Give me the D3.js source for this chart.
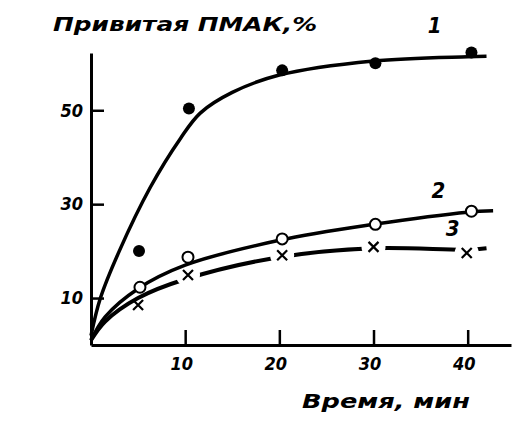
<!DOCTYPE html>
<html>
<head>
<meta charset="utf-8">
<script src="https://cdn.jsdelivr.net/npm/d3@7"></script>
<style>
  body { margin: 0; background: #fff; }
  text { font-family: "DejaVu Sans Condensed", "DejaVu Sans", sans-serif; font-weight: bold; font-style: italic; fill: #000; }
</style>
</head>
<body>
<svg id="chart" width="516" height="437"></svg>
<script>
// measured points (time, min -> grafted PMAK, %)
var pts1X = [5.1, 10.4, 20.3, 30.2, 40.4],
    pts1Y = [20, 50.4, 58.5, 60, 62.3];
var pts2X = [5.2, 10.3, 20.3, 30.2, 40.4],
    pts2Y = [12.3, 18.7, 22.6, 25.7, 28.5];
var pts3X = [5, 10.3, 20.3, 30, 39.9],
    pts3Y = [8.5, 14.9, 19.1, 20.9, 19.6];
// drawn smooth curves
var curve1X = [0, 1, 3, 6.3, 9.5, 11.6, 15, 20, 30, 40, 42],
    curve1Y = [2, 10, 20, 33.6, 44, 49.4, 53.8, 57.5, 60.5, 61.4, 61.5];
var curve2X = [0, 1.5, 5, 10, 20, 30, 40, 42.7],
    curve2Y = [1, 6, 12, 17, 22.3, 25.7, 28.3, 28.6];
var curve3X = [0, 1.5, 5, 10, 20, 30, 40, 42],
    curve3Y = [1, 5, 10, 14, 18.7, 20.6, 20.3, 20.6];
var xTicks = [10, 20, 30, 40],
    yTicks = [10, 30, 50];
var curveLabels = ["1", "2", "3"];

var svg = d3.select("#chart");
var x = d3.scaleLinear().domain([0, 44.6]).range([91, 511]),
    y = d3.scaleLinear().domain([0, 62.2]).range([345, 53]);

function zip(xs, ys) { return xs.map(function (v, i) { return [v, ys[i]]; }); }
var line = d3.line()
    .x(function (d) { return x(d[0]); })
    .y(function (d) { return y(d[1]); })
    .curve(d3.curveCatmullRom.alpha(0.5));

// axes
var gx = svg.append("g").attr("transform", "translate(0," + y(0) + ")")
    .call(d3.axisBottom(x).tickValues(xTicks).tickSize(-15).tickSizeOuter(0).tickPadding(12));
var gy = svg.append("g").attr("transform", "translate(" + x(0) + ",0)")
    .call(d3.axisLeft(y).tickValues(yTicks).tickSize(-13).tickSizeOuter(0).tickPadding(8));
[gx, gy].forEach(function (g) {
    g.select(".domain").attr("stroke", "#000").attr("stroke-width", 3);
    g.selectAll(".tick line").attr("stroke", "#000").attr("stroke-width", 2.5);
    g.selectAll(".tick text").style("font-size", "18px").attr("fill", "#000");
});
gx.selectAll(".tick text").attr("dx", -4);

// curve 3 (dashed by gaps around markers)
svg.append("path").datum(zip(curve3X, curve3Y))
    .attr("d", line).attr("fill", "none").attr("stroke", "#000").attr("stroke-width", 4);
svg.selectAll(".halo3").data(zip(pts3X, pts3Y).slice(1)).enter().append("circle")
    .attr("cx", function (d) { return x(d[0]); })
    .attr("cy", function (d) { return y(d[1]); })
    .attr("r", 12).attr("fill", "#fff");
svg.selectAll(".mk3").data(zip(pts3X, pts3Y)).enter().append("path")
    .attr("transform", function (d) { return "translate(" + x(d[0]) + "," + y(d[1]) + ")"; })
    .attr("d", "M-5,-5L5,5M-5,5L5,-5")
    .attr("stroke", "#000").attr("stroke-width", 2.2);

// curve 1 and 2
svg.append("path").datum(zip(curve1X, curve1Y))
    .attr("d", line).attr("fill", "none").attr("stroke", "#000").attr("stroke-width", 3.5);
svg.append("path").datum(zip(curve2X, curve2Y))
    .attr("d", line).attr("fill", "none").attr("stroke", "#000").attr("stroke-width", 3.5);

svg.selectAll(".mk1").data(zip(pts1X, pts1Y)).enter().append("circle")
    .attr("cx", function (d) { return x(d[0]); })
    .attr("cy", function (d) { return y(d[1]); })
    .attr("r", 6).attr("fill", "#000");
svg.selectAll(".mk2").data(zip(pts2X, pts2Y)).enter().append("circle")
    .attr("cx", function (d) { return x(d[0]); })
    .attr("cy", function (d) { return y(d[1]); })
    .attr("r", 5.5).attr("fill", "#fff").attr("stroke", "#000").attr("stroke-width", 2);

// curve numbers
var labelPos = [[36.5, 66.4], [36.9, 31.3], [38.4, 23.2]];
svg.selectAll(".cl").data(curveLabels).enter().append("text")
    .attr("x", function (d, i) { return x(labelPos[i][0]); })
    .attr("y", function (d, i) { return y(labelPos[i][1]); })
    .attr("text-anchor", "middle").style("font-size", "22px").text(function (d) { return d; });

// titles
svg.append("text").attr("x", 53).attr("y", 31).style("font-size", "20px")
    .attr("textLength", 264).attr("lengthAdjust", "spacingAndGlyphs").text("Привитая ПМАК,%");
svg.append("text").attr("x", 302).attr("y", 408).style("font-size", "20px")
    .attr("textLength", 168).attr("lengthAdjust", "spacingAndGlyphs").text("Время, мин");
</script>
</body>
</html>
